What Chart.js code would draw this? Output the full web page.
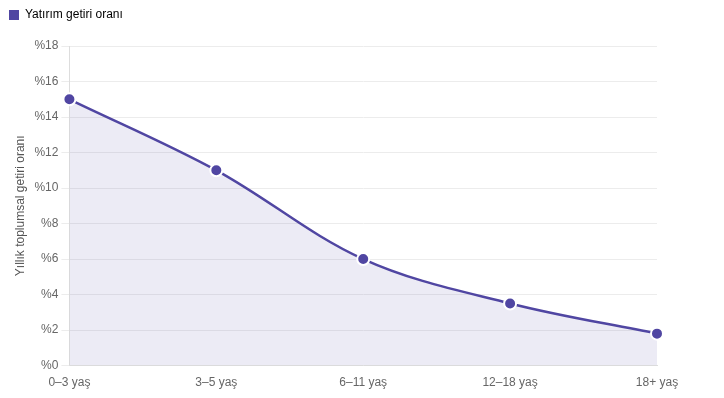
<!DOCTYPE html>
<html>
<head>
<meta charset="utf-8">
<script src="https://cdn.jsdelivr.net/npm/chart.js@4"></script>
<style>
  html, body { margin: 0; padding: 0; background: #fff; }
  #wrap { width: 724px; height: 398px; position: relative; }
</style>
</head>
<body>
<div id="wrap"><canvas id="chart"></canvas></div>
<script>
const categories = ['0–3 yaş', '3–5 yaş', '6–11 yaş', '12–18 yaş', '18+ yaş'];
const returnRates = [15, 11, 6, 3.5, 1.8];
const seriesLabel = 'Yatırım getiri oranı';
const yTitle = 'Yıllık toplumsal getiri oranı';

const lineColor = '#5046a2';

Chart.defaults.font.family = '"Liberation Sans", Arial, sans-serif';
Chart.defaults.font.size = 12;
Chart.defaults.color = '#666';

// push the plot area down a bit below the legend
const legendGap = {
    id: 'legendGap',
    beforeInit(chart) {
        const origFit = chart.legend.fit;
        chart.legend.fit = function() {
            origFit.bind(chart.legend)();
            this.height += 15;
        };
    }
};

const ctx = document.getElementById('chart').getContext('2d');
new Chart(ctx, {
    type: 'line',
    data: {
        labels: categories,
        datasets: [{
            label: seriesLabel,
            data: returnRates,
            borderColor: lineColor,
            backgroundColor: 'rgba(80, 70, 162, 0.11)',
            pointBackgroundColor: lineColor,
            pointBorderColor: '#fff',
            pointBorderWidth: 2,
            pointRadius: 6,
            borderWidth: 2.5,
            fill: true,
            tension: 0.35
        }]
    },
    options: {
        responsive: true,
        maintainAspectRatio: false,
        animation: false,
        layout: { padding: { left: 0, right: 67, top: 0, bottom: 6 } },
        plugins: {
            legend: {
                align: 'start',
                labels: {
                    boxWidth: 10,
                    boxHeight: 10,
                    padding: 9,
                    color: '#555',
                    generateLabels: function(chart) {
                        return chart.data.datasets.map((ds, i) => ({
                            text: ds.label,
                            fillStyle: lineColor,
                            strokeStyle: lineColor,
                            lineWidth: 0,
                            datasetIndex: i
                        }));
                    }
                }
            },
            tooltip: { enabled: false }
        },
        scales: {
            x: {
                grid: { display: false },
                border: { color: '#ddd' },
                ticks: { padding: 2 }
            },
            y: {
                min: 0,
                max: 18,
                ticks: {
                    stepSize: 2,
                    callback: v => '%' + v
                },
                grid: { color: '#ececec' },
                border: { color: '#ddd' },
                title: {
                    display: true,
                    text: yTitle,
                    color: '#555',
                    padding: { top: 13, bottom: 4 }
                }
            }
        }
    },
    plugins: [legendGap]
});
</script>
</body>
</html>
